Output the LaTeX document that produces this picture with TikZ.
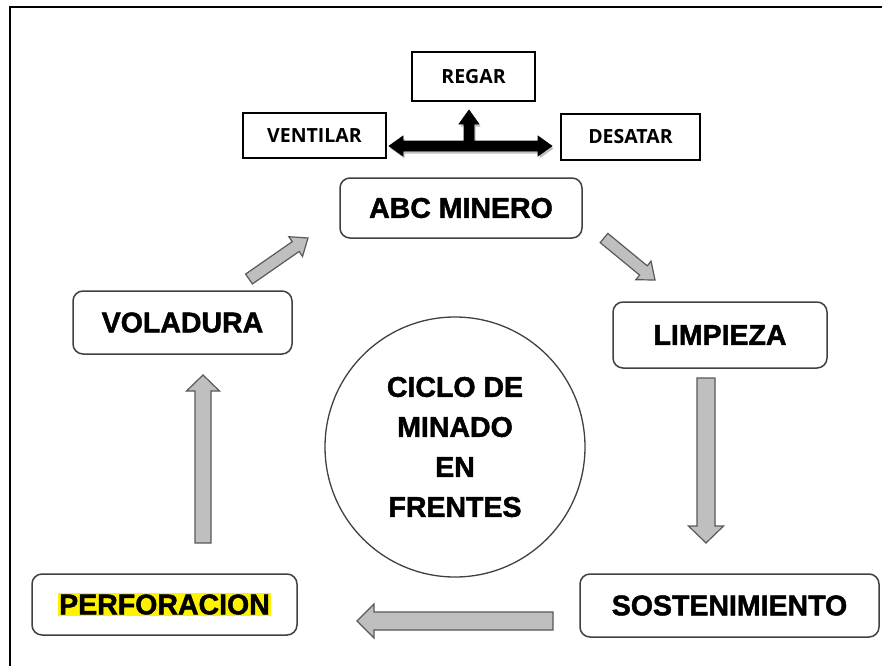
\documentclass[tikz,border=0pt]{standalone}
\usepackage{fontspec}
\setmainfont{Liberation Sans}
\newfontfamily\heavyfont[FakeBold=1.6]{Liberation Sans Bold}
\newfontfamily\smallfont{Open Sans}
\usetikzlibrary{calc}
\definecolor{arrfill}{HTML}{BFBFBF}
\definecolor{arrline}{HTML}{595959}
\definecolor{boxline}{HTML}{404040}
\tikzset{
  stage/.style={draw=boxline, line width=1.5pt, rounded corners=10pt, fill=white,
    font=\heavyfont\fontsize{28.5}{34}\selectfont, inner sep=0pt},
  task/.style={draw=black, line width=1.3pt, fill=white,
    font=\smallfont\bfseries\fontsize{19.5}{22}\selectfont, inner sep=0pt},
  blockarr/.style={draw=arrline, fill=arrfill, line width=1.2pt, line join=miter},
  blackarr/.style={fill=black, draw=black, line width=0.6pt, line join=miter},
  frame/.style={draw=black, line width=2pt},
}
\newcommand\grayarrow[5]{%
  \coordinate (ga-h) at ($(#2)!#5!(#1)$);
  \draw[blockarr] ($(#1)!#3!90:(#2)$) -- ($(ga-h)!#3!-90:(#1)$) -- ($(ga-h)!#4!-90:(#1)$)
    -- (#2) -- ($(ga-h)!#4!90:(#1)$) -- ($(ga-h)!#3!90:(#1)$) -- ($(#1)!#3!-90:(#2)$) -- cycle;}
\begin{document}
\begin{tikzpicture}[x=1pt,y=-1pt]
\useasboundingbox (0,0) rectangle (882,666);
\fill[white] (0,0) rectangle (882,666);
% frame (cropped)
\coordinate (fr-bl) at (10,666);
\coordinate (fr-tl) at (10,7);
\coordinate (fr-tr) at (882,7);
\draw[frame] (fr-bl) -- (fr-tl) -- (fr-tr);

% task boxes
\node[task, minimum width=123pt, minimum height=49pt] (regar) at (473.5,76.5) {REGAR};
\node[task, minimum width=143pt, minimum height=45pt] (vent) at (314.5,135.5) {VENTILAR};
\node[task, minimum width=139pt, minimum height=46pt] (desat) at (630.5,137) {DESATAR};

% black three-way arrow (with soft shadow)
\begin{scope}[shift={(1.5,2.5)}]
\fill[black, opacity=0.25] (389,146) -- (403,136) -- (403,141) -- (464,141) -- (464,124) -- (459,124)
  -- (469,110) -- (479,124) -- (474,124) -- (474,141) -- (538,141) -- (538,136) -- (552,146)
  -- (538,156) -- (538,151) -- (403,151) -- (403,156) -- cycle;
\end{scope}
\coordinate (bl) at (389,146);
\coordinate (br) at (552,146);
\coordinate (bu) at (469,110);
\draw[blackarr] (bl) -- (403,136) -- (403,141) -- (464,141) -- (464,124) -- (459,124)
  -- (bu) -- (479,124) -- (474,124) -- (474,141) -- (538,141) -- (538,136) -- (br)
  -- (538,156) -- (538,151) -- (403,151) -- (403,156) -- cycle;

% stage boxes
\node[stage, minimum width=242pt, minimum height=60pt] (abc) at (461,208) {ABC MINERO};
\node[stage, minimum width=214pt, minimum height=66pt] (limp) at (720,335) {LIMPIEZA};
\node[stage, minimum width=219pt, minimum height=63pt] (vol) at (182.5,322.5) {VOLADURA};
\node[stage, minimum width=265pt, minimum height=61pt] (perf) at (164.5,604.5)
  {{\setlength{\fboxsep}{1pt}\colorbox{yellow}{PERFORACION}}};
\node[stage, minimum width=299pt, minimum height=63pt] (sost) at (729.5,605.5) {SOSTENIMIENTO};

% central circle
\node[draw=boxline, line width=1.3pt, circle, minimum size=260pt, inner sep=0pt, align=center,
  font=\heavyfont\fontsize{28.5}{40}\selectfont] (ciclo) at (455,447) {CICLO DE\\MINADO\\EN\\FRENTES};

% gray block arrows
\coordinate (a1s) at (249,279); \coordinate (a1e) at (308,238);
\coordinate (a2s) at (604,238); \coordinate (a2e) at (655,280);
\coordinate (a3s) at (706,378); \coordinate (a3e) at (706,543);
\coordinate (a4s) at (553,621); \coordinate (a4e) at (357,621);
\coordinate (a5s) at (203,543); \coordinate (a5e) at (203,375);
\grayarrow{a1s}{a1e}{6pt}{12pt}{15pt}
\grayarrow{a2s}{a2e}{6pt}{12pt}{15pt}
\grayarrow{a3s}{a3e}{9pt}{17.5pt}{17pt}
\grayarrow{a4s}{a4e}{9pt}{17pt}{17pt}
\grayarrow{a5s}{a5e}{8pt}{16.5pt}{16pt}
\end{tikzpicture}
\end{document}
